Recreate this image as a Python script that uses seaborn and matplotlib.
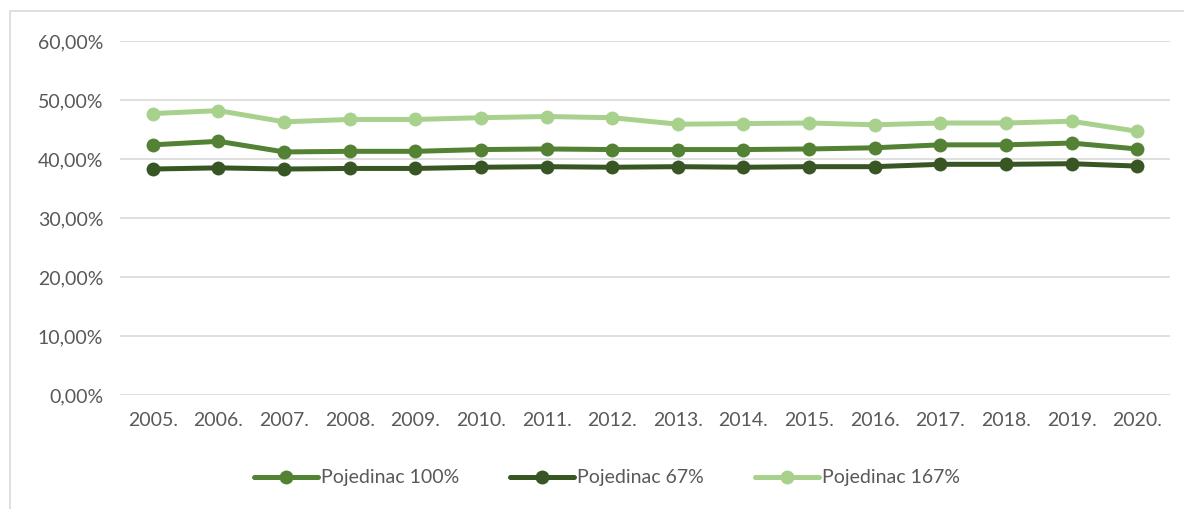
import numpy as np
import pandas as pd
import matplotlib.pyplot as plt
import seaborn as sns
from matplotlib.ticker import FuncFormatter

years = [f"{y}." for y in range(2005, 2021)]
pojedinac_100 = [42.4, 43.0, 41.2, 41.3, 41.3, 41.6, 41.7, 41.6, 41.6, 41.6, 41.7, 41.9, 42.4, 42.4, 42.7, 41.7]
pojedinac_67 = [38.3, 38.5, 38.3, 38.4, 38.4, 38.6, 38.7, 38.6, 38.7, 38.6, 38.7, 38.7, 39.1, 39.1, 39.2, 38.8]
pojedinac_167 = [47.7, 48.2, 46.3, 46.7, 46.7, 47.0, 47.2, 47.0, 45.9, 46.0, 46.1, 45.8, 46.1, 46.1, 46.4, 44.7]

series = {
    "Pojedinac 100%": pojedinac_100,
    "Pojedinac 67%": pojedinac_67,
    "Pojedinac 167%": pojedinac_167,
}
colors = {
    "Pojedinac 100%": "#548235",
    "Pojedinac 67%": "#375623",
    "Pojedinac 167%": "#A9D18E",
}

df = pd.concat([
    pd.DataFrame({"year": years, "value": vals, "series": name})
    for name, vals in series.items()
], ignore_index=True)

sns.set_style("white")
plt.rcParams["font.family"] = ["Lato", "DejaVu Sans"]

fig = plt.figure(figsize=(11.84, 5.09), dpi=100)
ax = fig.add_axes([120 / 1184, 1 - 395 / 509, 1050 / 1184, 354 / 509])

sns.lineplot(data=df, x="year", y="value", hue="series", palette=colors,
             marker="o", markersize=10, markeredgewidth=0, linewidth=3.6,
             sort=False, ax=ax, legend=False)

ax.set_ylim(0, 60)
ax.set_yticks(np.arange(0, 61, 10))
ax.yaxis.set_major_formatter(FuncFormatter(lambda v, p: f"{v:.2f}%".replace(".", ",")))
ax.set_xlim(-0.5, len(years) - 0.5)
ax.grid(axis="y", color="#D9D9D9", linewidth=1.2)
ax.set_axisbelow(True)
for s in ["top", "right", "left", "bottom"]:
    ax.spines[s].set_visible(False)
ax.set_xlabel("")
ax.set_ylabel("")
ax.tick_params(axis="both", length=0, labelsize=14, labelcolor="#595959")
ax.tick_params(axis="x", pad=12)
ax.tick_params(axis="y", pad=12)

handles = [plt.Line2D([], [], color=colors[n], marker="o", markersize=10,
                      markeredgewidth=0, linewidth=3.6) for n in series]
fig.legend(handles, list(series.keys()), loc="center", ncol=3,
           bbox_to_anchor=(607 / 1184, 1 - 478 / 509), frameon=False,
           fontsize=14, labelcolor="#595959", handlelength=3.3,
           handletextpad=0.15, columnspacing=2.6)

fig.patches.append(plt.Rectangle((10 / 1184, -0.2), 1.2, 1.2 - 11 / 509,
                                 transform=fig.transFigure, fill=False,
                                 edgecolor="#D9D9D9", linewidth=1.2))

fig.savefig("out.png", dpi=100)
